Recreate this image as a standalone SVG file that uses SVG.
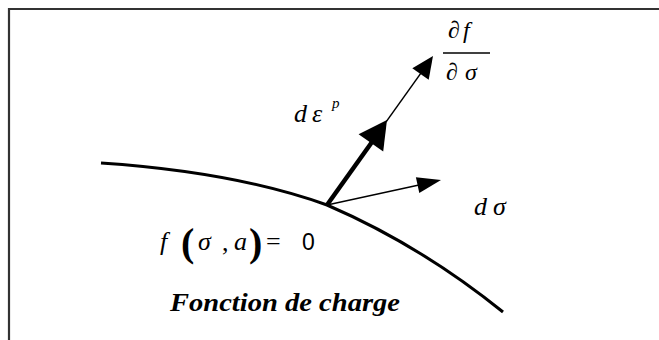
<svg xmlns="http://www.w3.org/2000/svg" width="659" height="340" viewBox="0 0 659 340">
<style>
.m{font-family:"Liberation Serif",serif;font-style:italic;fill:#000}
.u{font-family:"Liberation Serif",serif;fill:#000}
.t{font-family:"Liberation Serif",serif;font-style:italic;font-weight:bold;fill:#000}
.ln{stroke:#000;fill:none}
</style>
<rect width="659" height="340" fill="#fff"/>
<g id="frame">
<path d="M9,340 V9 H659" fill="none" stroke="#333" stroke-width="2.2"/>
</g>
<g id="curve">
<path class="ln" d="M101,163 Q235,172 327,205 Q420,245 503,312" stroke-width="3"/>
</g>
<g id="connectors">
<line class="ln" x1="327" y1="205" x2="372" y2="142" stroke-width="4.5"/>
<polygon points="387,120 383.2,151.5 358.6,134.3" fill="#000"/>
<line class="ln" x1="386" y1="122" x2="421" y2="73" stroke-width="1.3"/>
<polygon points="433,56 428.7,79.7 412.3,68.3" fill="#000"/>
<line class="ln" x1="327" y1="205" x2="419" y2="185" stroke-width="1.4"/>
<polygon points="441,180 419.3,192.9 415.9,177.3" fill="#000"/>
</g>
<g id="gradient-label">
<text class="u" x="448" y="38" font-size="24">∂<tspan class="m" x="463">f</tspan></text>
<line x1="443" y1="53" x2="490" y2="53" stroke="#000" stroke-width="1.6"/>
<text class="u" x="446" y="80" font-size="24">∂<tspan class="m" x="465">σ</tspan></text>
</g>
<g id="plastic-strain-label">
<text class="m" x="294" y="122" font-size="26">d<tspan x="312">ε</tspan><tspan x="332" y="108" font-size="15">p</tspan></text>
</g>
<g id="stress-label">
<text class="m" x="474" y="215" font-size="26">d<tspan x="493">σ</tspan></text>
</g>
<g id="yield-equation">
<text class="m" x="160" y="250" font-size="26">f</text>
<text class="u" x="181" y="256" font-size="40" font-weight="bold">(</text>
<text class="m" x="198" y="250" font-size="26">σ</text>
<text class="u" x="222" y="251" font-size="26">,</text>
<text class="m" x="234" y="250" font-size="26">a</text>
<text class="u" x="249" y="256" font-size="40" font-weight="bold">)</text>
<text class="u" x="266" y="250" font-size="26">=</text>
<text x="302" y="250" font-size="23" font-family="Liberation Sans, sans-serif">0</text>
</g>
<g id="caption">
<text class="t" x="170" y="311" font-size="25" textLength="230" lengthAdjust="spacingAndGlyphs">Fonction de charge</text>
</g>
</svg>
